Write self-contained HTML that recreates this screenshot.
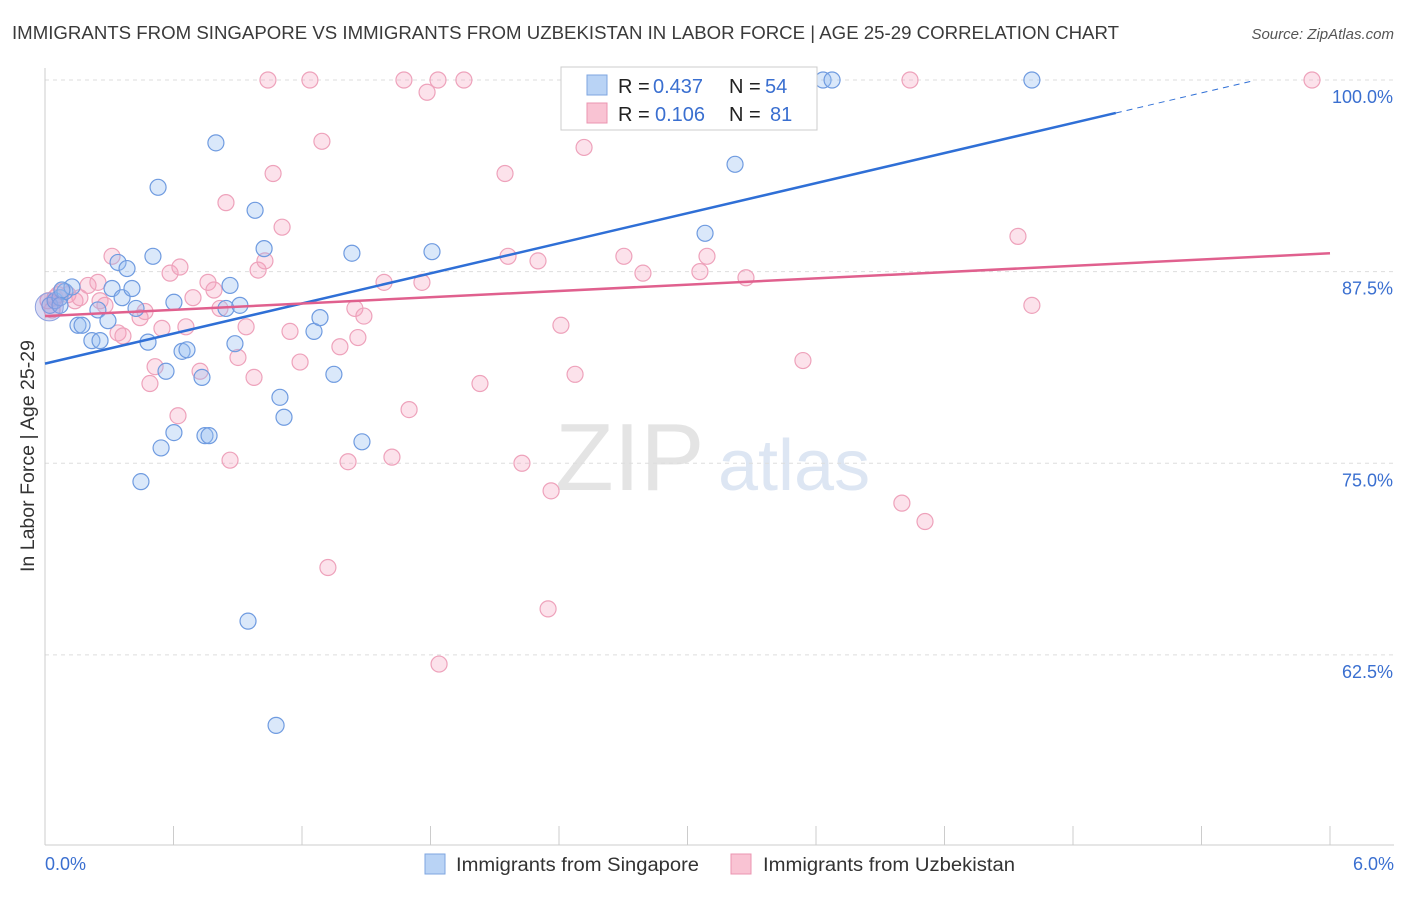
<!DOCTYPE html>
<html><head><meta charset="utf-8"><style>
body{margin:0;background:#fff;font-family:"Liberation Sans",sans-serif}
svg text{font-family:"Liberation Sans",sans-serif}
</style></head><body>
<svg id="chart" width="1406" height="892" xmlns="http://www.w3.org/2000/svg">
<text x="12" y="39" font-size="18" fill="#3a3a3a" textLength="1107" lengthAdjust="spacingAndGlyphs">IMMIGRANTS FROM SINGAPORE VS IMMIGRANTS FROM UZBEKISTAN IN LABOR FORCE | AGE 25-29 CORRELATION CHART</text>
<text x="1394" y="39" font-size="15" fill="#555" text-anchor="end" font-style="italic">Source: ZipAtlas.com</text>
<text x="555" y="490" font-size="96" fill="#e4e4e4" font-family="Liberation Serif" >ZIP</text>
<text x="718" y="490" font-size="72" fill="#dde6f3">atlas</text>
<g id="grid"></g>
<g id="axes"></g>
<g id="pink"></g>
<g id="blue"></g>
<g id="lines"></g>
<text transform="translate(34,456) rotate(-90)" font-size="19" fill="#333" text-anchor="middle" textLength="232" lengthAdjust="spacingAndGlyphs">In Labor Force | Age 25-29</text>
<g>
<rect x="561" y="67" width="256" height="63" fill="#fff" stroke="#ccc"/>
<rect x="587" y="75" width="20" height="20" fill="#b9d3f5" stroke="#7ea6e0"/>
<rect x="587" y="103" width="20" height="20" fill="#f9c3d3" stroke="#eb94b0"/>
<text x="618" y="93" font-size="20" fill="#222">R =</text>
<text x="653" y="93" font-size="20" fill="#3a6fd0">0.437</text>
<text x="729" y="93" font-size="20" fill="#222">N =</text>
<text x="765" y="93" font-size="20" fill="#3a6fd0">54</text>
<text x="618" y="121" font-size="20" fill="#222">R =</text>
<text x="655" y="121" font-size="20" fill="#3a6fd0">0.106</text>
<text x="729" y="121" font-size="20" fill="#222">N =</text>
<text x="770" y="121" font-size="20" fill="#3a6fd0">81</text>
</g>
<g>
<rect x="425" y="854" width="20" height="20" fill="#b9d3f5" stroke="#7ea6e0"/>
<text x="456" y="871" font-size="19" fill="#333" textLength="243" lengthAdjust="spacingAndGlyphs">Immigrants from Singapore</text>
<rect x="731" y="854" width="20" height="20" fill="#f9c3d3" stroke="#eb94b0"/>
<text x="763" y="871" font-size="19" fill="#333" textLength="252" lengthAdjust="spacingAndGlyphs">Immigrants from Uzbekistan</text>
</g>
</svg>
<script>
const xTicks=[0,0.6,1.2,1.8,2.4,3.0,3.6,4.2,4.8,5.4,6.0];
const yTicks=[100,87.5,75,62.5];
const yTickLabels=["100.0%","87.5%","75.0%","62.5%"];
const blueX=[.023,.047,.070,.093,.126,.079,.154,.173,.219,.257,.247,.294,.313,.341,.383,.360,.406,.425,.481,.504,.528,.565,.542,.448,.602,.602,.640,.663,.733,.747,.766,.798,.845,.864,.910,.887,.981,1.023,.948,1.097,1.116,1.079,1.256,1.284,1.349,1.433,1.480,1.807,3.082,3.222,3.633,3.675,4.608,.070];
const blueY=[85.3,85.6,85.8,86.2,86.5,86.3,84.0,84.0,83.0,83.0,85.0,84.3,86.4,88.1,87.7,85.8,86.4,85.1,82.9,88.5,93.0,81.0,76.0,73.8,77.0,85.5,82.3,82.4,80.6,76.8,76.8,95.9,85.1,86.6,85.3,82.8,91.5,89.0,64.7,79.3,78.0,57.9,83.6,84.5,80.8,88.7,76.4,88.8,90.0,94.5,100,100,100,85.3];
const pinkX=[.014,.033,.061,.107,.140,.163,.201,.247,.280,.313,.341,.364,.444,.467,.490,.514,.546,.584,.630,.621,.658,.691,.724,.761,.789,.817,.845,.864,.901,.939,.976,.995,1.027,1.065,1.107,1.144,1.191,1.041,1.237,1.293,1.321,1.377,1.415,1.447,1.461,1.489,1.583,1.620,1.676,1.700,1.760,1.784,1.835,1.840,1.956,2.031,2.148,2.162,2.227,2.302,2.349,2.363,2.409,2.475,2.517,2.703,2.792,3.058,3.091,3.133,3.273,3.539,4.001,4.039,4.109,4.543,4.608,5.916,.047,.079,.257];
const pinkY=[85.6,85.0,86.0,86.0,85.6,85.8,86.6,86.8,85.3,88.5,83.5,83.3,84.5,84.9,80.2,81.3,83.8,87.4,87.8,78.1,83.9,85.8,81.0,86.8,86.3,85.1,92.0,75.2,81.9,83.9,80.6,87.6,88.2,93.9,90.4,83.6,81.6,100,100,96.0,68.2,82.6,75.1,85.1,83.2,84.6,86.8,75.4,100,78.5,86.8,99.2,100,61.9,100,80.2,93.9,88.5,75.0,88.2,65.5,73.2,84.0,80.8,95.6,88.5,87.4,87.5,88.5,100,87.1,81.7,72.4,100,71.2,89.8,85.3,100,85.8,86.2,85.6];
const blueTrend=[81.5,3.27];
const pinkTrend=[84.6,0.683];
const X=v=>45+v/6*1285, Y=v=>80+(100-v)*15.33;
const NS="http://www.w3.org/2000/svg";
function mk(p,t,a){const e=document.createElementNS(NS,t);for(const k in a)e.setAttribute(k,a[k]);document.getElementById(p).appendChild(e);return e;}
yTicks.forEach((v,i)=>{
 const g=mk('grid','line',{x1:45,x2:1394,y1:Y(v),y2:Y(v),stroke:'#ddd','stroke-dasharray':'4,4'});
 
 
 const t=mk('axes','text',{x:1393,y:Y(v)+23,'font-size':18,fill:'#3a6fd0','text-anchor':'end'});t.textContent=yTickLabels[i];
 
 
});
mk('axes','line',{x1:45,x2:45,y1:68,y2:845,stroke:'#ccc'});
mk('axes','line',{x1:45,x2:1394,y1:845,y2:845,stroke:'#ccc'});
xTicks.forEach(v=>{const l=mk('axes','line',{x1:X(v),x2:X(v),y1:826,y2:845,stroke:'#ccc'});
 
 });
let t=mk('axes','text',{x:45,y:870,'font-size':18,fill:'#3a6fd0'});t.textContent="0.0%";

t=mk('axes','text',{x:1394,y:870,'font-size':18,fill:'#3a6fd0','text-anchor':'end'});t.textContent="6.0%";

pinkX.forEach((v,i)=>{const c=mk('pink','circle',{cx:X(v),cy:Y(pinkY[i]),r:8,fill:'rgba(245,160,190,0.3)',stroke:'#eea2bb','stroke-width':1.2});
 
 });
blueX.forEach((v,i)=>{const c=mk('blue','circle',{cx:X(v),cy:Y(blueY[i]),r:8,fill:'rgba(150,190,240,0.35)',stroke:'#6f9be0','stroke-width':1.2});
 
 });
const big=mk('blue','circle',{cx:X(0.02),cy:Y(85.2),r:14,fill:'rgba(150,150,220,0.35)',stroke:'#8fa3e0'});


let l=mk('lines','line',{x1:X(0),y1:Y(blueTrend[0]),x2:X(5),y2:Y(blueTrend[0]+blueTrend[1]*5),stroke:'#2f6fd6','stroke-width':2.5});


l=mk('lines','line',{x1:X(5),y1:Y(blueTrend[0]+blueTrend[1]*5),x2:X(5.65),y2:Y(blueTrend[0]+blueTrend[1]*5.65),stroke:'#2f6fd6','stroke-width':1,'stroke-dasharray':'6,5'});


l=mk('lines','line',{x1:X(0),y1:Y(pinkTrend[0]),x2:X(6),y2:Y(pinkTrend[0]+pinkTrend[1]*6),stroke:'#e0608e','stroke-width':2.5});


</script>
</body></html>
